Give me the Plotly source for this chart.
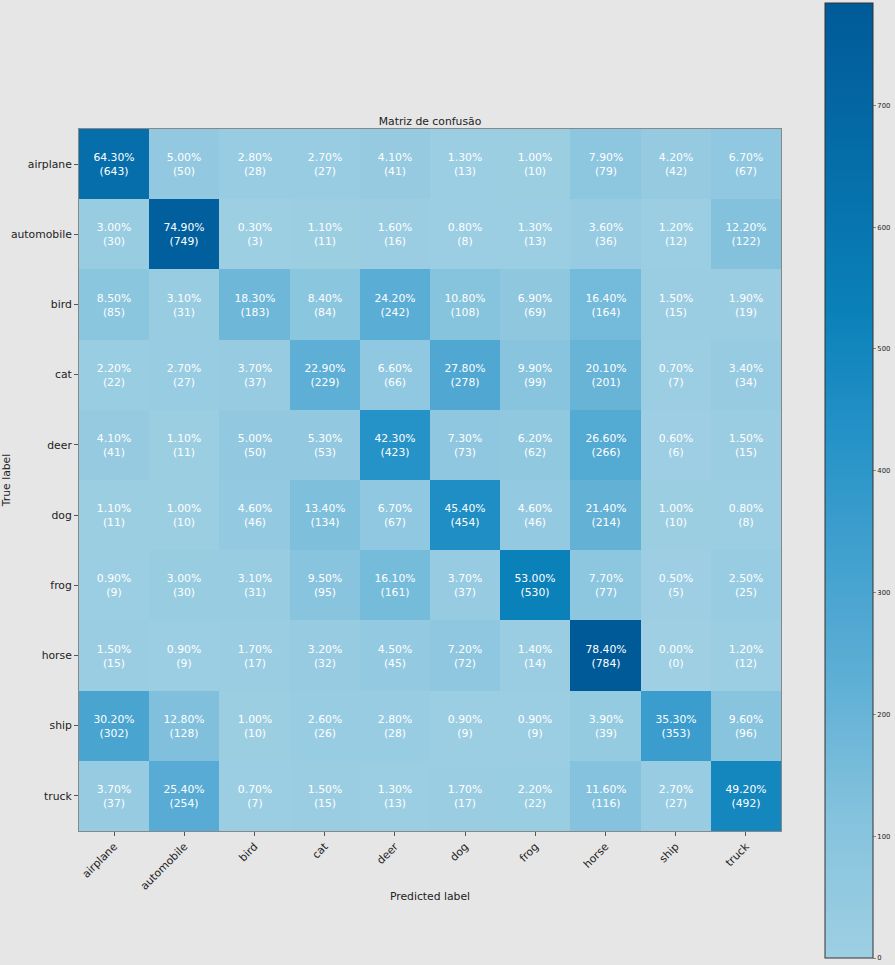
import plotly.graph_objects as go

classes = ["airplane", "automobile", "bird", "cat", "deer", "dog", "frog", "horse", "ship", "truck"]

counts = [
    [643, 50, 28, 27, 41, 13, 10, 79, 42, 67],
    [30, 749, 3, 11, 16, 8, 13, 36, 12, 122],
    [85, 31, 183, 84, 242, 108, 69, 164, 15, 19],
    [22, 27, 37, 229, 66, 278, 99, 201, 7, 34],
    [41, 11, 50, 53, 423, 73, 62, 266, 6, 15],
    [11, 10, 46, 134, 67, 454, 46, 214, 10, 8],
    [9, 30, 31, 95, 161, 37, 530, 77, 5, 25],
    [15, 9, 17, 32, 45, 72, 14, 784, 0, 12],
    [302, 128, 10, 26, 28, 9, 9, 39, 353, 96],
    [37, 254, 7, 15, 13, 17, 22, 116, 27, 492],
]

cbar_ticks = [0, 100, 200, 300, 400, 500, 600, 700]

text = []
for row in counts:
    s = sum(row)
    text.append([f"{v / s * 100:.2f}%<br>({v})" for v in row])

colorscale = [
    [0.0, "#9ecfe3"],
    [0.15, "#84c2dd"],
    [0.3, "#5caed5"],
    [0.55, "#2492c7"],
    [0.68, "#0a80b9"],
    [1.0, "#005a98"],
]

FONT = "DejaVu Sans"
BG = "#e6e6e6"
FS = 10.8

fig = go.Figure(
    go.Heatmap(
        z=counts,
        x=classes,
        y=classes,
        text=text,
        texttemplate="%{text}",
        textfont=dict(family=FONT, size=FS, color="white"),
        colorscale=colorscale,
        zmin=0,
        zmax=784,
        xgap=0,
        ygap=0,
        colorbar=dict(
            x=(825 - 79) / 702,
            xanchor="left",
            xref="paper",
            y=(831 - 480.5) / 702,
            yanchor="middle",
            len=955,
            lenmode="pixels",
            thickness=48,
            thicknessmode="pixels",
            outlinewidth=1,
            outlinecolor="#333333",
            tickvals=cbar_ticks,
            ticks="outside",
            ticklen=3,
            tickcolor="#888",
            tickfont=dict(family=FONT, size=6.8, color="#222"),
            xpad=0,
            ypad=0,
        ),
        hoverinfo="skip",
    )
)

fig.update_layout(
    width=895,
    height=965,
    paper_bgcolor=BG,
    plot_bgcolor=BG,
    margin=dict(l=79, r=114, t=129, b=134, autoexpand=False),
    font=dict(family=FONT, color="#222"),
    title=dict(
        text="Matriz de confusão",
        x=0.5,
        xref="paper",
        xanchor="center",
        y=1 - 121 / 965,
        yanchor="middle",
        font=dict(family=FONT, size=FS, color="#222"),
    ),
    xaxis=dict(
        title=dict(text="Predicted label", font=dict(family=FONT, size=FS, color="#222"), standoff=0),
        tickangle=-45,
        tickfont=dict(family=FONT, size=FS, color="#222"),
        ticks="outside",
        ticklen=4,
        tickcolor="#555",
        showline=True,
        linecolor="#888",
        linewidth=1,
        mirror=True,
        showgrid=False,
        zeroline=False,
        automargin=False,
    ),
    yaxis=dict(
        title=dict(text="True label", font=dict(family=FONT, size=FS, color="#222"), standoff=20),
        autorange="reversed",
        tickfont=dict(family=FONT, size=FS, color="#222"),
        ticks="outside",
        ticklen=4,
        tickcolor="#555",
        showline=True,
        linecolor="#888",
        linewidth=1,
        mirror=True,
        showgrid=False,
        zeroline=False,
        automargin=False,
    ),
)

fig.write_html(
    "out.html",
    config={"displayModeBar": False},
    post_script="document.body.style.margin='0';document.body.style.padding='0';document.body.style.background='#e6e6e6';",
)
